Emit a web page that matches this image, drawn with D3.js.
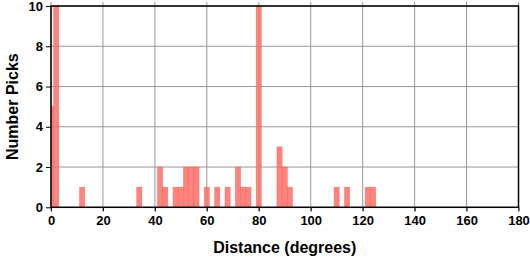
<!DOCTYPE html>
<html>
<head>
<meta charset="utf-8">
<script src="https://cdn.jsdelivr.net/npm/d3@7"></script>
<style>
  body { margin: 0; background: #fff; }
  text { font-family: "Liberation Sans", Arial, sans-serif; font-weight: bold; fill: #000; }
</style>
</head>
<body>
<div id="chart"></div>
<script>
// histogram bins (2 degree wide, centered on even degrees)
const binCenters = [0, 2, 12, 34, 42, 44, 48, 50, 52, 54, 56, 60, 64, 68, 72, 74, 76, 80, 88, 90, 92, 110, 114, 122, 124];
const counts     = [5, 10, 1, 1, 2, 1, 1, 1, 2, 2, 2, 1, 1, 1, 2, 1, 1, 10, 3, 2, 1, 1, 1, 1, 1];
const binWidth = 2;
const xTicks = [0, 20, 40, 60, 80, 100, 120, 140, 160, 180];
const yTicks = [0, 2, 4, 6, 8, 10];

const dims = { width: 530, height: 258, left: 51, right: 518.5, top: 6, bottom: 207.3 };

const svg = d3.select('#chart').append('svg')
  .attr('width', dims.width)
  .attr('height', dims.height);

const x = d3.scaleLinear().domain([0, 180]).range([dims.left, dims.right]);
const y = d3.scaleLinear().domain([0, 10]).range([dims.bottom, dims.top]);

// grid
const grid = svg.append('g').attr('stroke', '#999').attr('stroke-width', 1);
grid.selectAll('.gx').data(xTicks).join('line')
  .attr('x1', d => x(d)).attr('x2', d => x(d))
  .attr('y1', dims.top - 4).attr('y2', dims.bottom + 4);
grid.selectAll('.gy').data(yTicks).join('line')
  .attr('x1', dims.left).attr('x2', dims.right)
  .attr('y1', d => y(d)).attr('y2', d => y(d));

// bars
svg.append('defs').append('clipPath').attr('id', 'plot')
  .append('rect')
  .attr('x', dims.left).attr('y', dims.top)
  .attr('width', dims.right - dims.left).attr('height', dims.bottom - dims.top);

svg.append('g').attr('clip-path', 'url(#plot)')
  .selectAll('rect')
  .data(binCenters.map((c, i) => ({ x0: c - binWidth / 2, x1: c + binWidth / 2, n: counts[i] })))
  .join('rect')
  .attr('x', d => x(d.x0))
  .attr('width', d => x(d.x1) - x(d.x0))
  .attr('y', d => y(d.n))
  .attr('height', d => y(0) - y(d.n))
  .attr('fill', '#ff6f66')
  .attr('fill-opacity', 0.85)
  .attr('stroke', '#f05a52')
  .attr('stroke-width', 0.6)
  .attr('stroke-opacity', 0.6);

// axes
const xAxis = d3.axisBottom(x).tickValues(xTicks).tickSize(4).tickPadding(4).tickFormat(d3.format('d'));
const yAxis = d3.axisLeft(y).tickValues(yTicks).tickSize(5).tickPadding(3).tickFormat(d3.format('d'));

const gx = svg.append('g').attr('transform', `translate(0,${dims.bottom})`).call(xAxis);
const gy = svg.append('g').attr('transform', `translate(${dims.left},0)`).call(yAxis);
[gx, gy].forEach(g => {
  g.select('.domain').remove();
  g.selectAll('line').attr('stroke', '#000').attr('stroke-width', 1);
  g.selectAll('text').style('font-size', '13px').style('font-family', '"Liberation Sans", Arial, sans-serif').style('font-weight', 'bold');
});

// frame
svg.append('rect')
  .attr('x', dims.left).attr('y', dims.top)
  .attr('width', dims.right - dims.left).attr('height', dims.bottom - dims.top)
  .attr('fill', 'none').attr('stroke', '#000').attr('stroke-width', 1.5);

// titles
svg.append('text')
  .attr('x', (dims.left + dims.right) / 2).attr('y', 253)
  .attr('text-anchor', 'middle')
  .style('font-size', '16px')
  .text('Distance (degrees)');

svg.append('text')
  .attr('transform', `translate(12,${(dims.top + dims.bottom) / 2}) rotate(-90)`)
  .attr('text-anchor', 'middle')
  .attr('dy', '0.35em')
  .style('font-size', '16px')
  .text('Number Picks');
</script>
</body>
</html>
